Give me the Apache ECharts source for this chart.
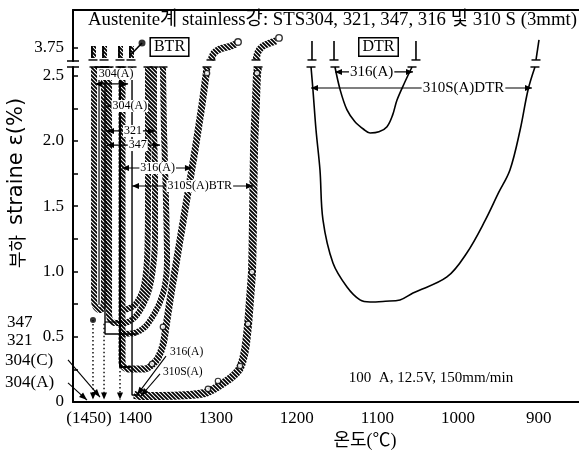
<!DOCTYPE html>
<html><head><meta charset="utf-8">
<script src="https://cdn.jsdelivr.net/npm/echarts@6/dist/echarts.min.js"></script>
<style>html,body{margin:0;padding:0;background:#fff}#c{width:579px;height:456px}</style>
</head><body><div id="c"></div>
<script>
// ---------- axis ticks ----------
const xTickValues = [1450, 1400, 1300, 1200, 1100, 1000, 900];
const xTickLabels = ['(1450)', '1400', '1300', '1200', '1100', '1000', '900'];
const yTickValues = [0, 0.5, 1.0, 1.5, 2.0, 2.5];
const yTickLabels = ['0', '0.5', '1.0', '1.5', '2.0', '2.5'];
const yMinorTicks = [0, 0.25, 0.5, 0.75, 1.0, 1.25, 1.5, 1.75, 2.0, 2.25, 2.5];
const yTopTickValues = [3.75];
const yTopTickLabels = ['3.75'];

// ---------- BTR hatched curves (temperature, strain %) ----------
const btr304A = [[1451.2,2.567],[1451.2,0.782],[1449.4,0.728],[1445,0.705],[1442.6,0.705],[1440.1,0.728],[1438.8,0.782],[1438.8,2.567]];
const btr347 = [[1432.6,2.567],[1432.6,0.667],[1430.2,0.621],[1424.0,0.605],[1412.8,0.605],[1400.4,0.651],[1390.5,0.743],[1383.1,0.858],[1378.1,1.027],[1375.6,1.241],[1375.6,1.701],[1376.9,2.161],[1376.9,2.567]];
const btr321 = [[1419.0,0.521],[1400.4,0.529],[1388.0,0.575],[1378.1,0.659],[1369.4,0.766],[1363.2,0.897],[1360.7,1.073],[1362.0,1.548],[1364.5,2.084],[1365.7,2.567]];
const btrMid = [[1412.8,0.705],[1400.4,0.743],[1390.5,0.858],[1385.5,1.088],[1384.3,1.548],[1384.3,2.567]];
const btr316A = [[1416.5,2.567],[1416.5,0.307],[1414,0.268],[1406.6,0.253],[1388,0.253],[1379.3,0.284],[1371.9,0.337],[1365.7,0.437],[1362,0.575],[1357,0.782],[1350.8,1.011],[1338.4,1.471],[1326,1.931],[1317.4,2.276],[1312.4,2.506],[1311.2,2.567]];
const btr310S = [[1401.6,0.054],[1394.2,0.046],[1369.4,0.046],[1332.2,0.054],[1313.6,0.069],[1305,0.092],[1295,0.13],[1280.2,0.192],[1270.2,0.261],[1264,0.398],[1260.3,0.59],[1257.9,0.782],[1255.4,0.996],[1254.1,1.395],[1252.9,1.931],[1250.4,2.314],[1249.2,2.506],[1247.9,2.567]];
// continuation above the axis break
const top316A = [[1306.2,3.658],[1302.5,3.712],[1295.0,3.742],[1285.1,3.758],[1275.2,3.781]];
const top310S = [[1250.4,3.658],[1247.9,3.719],[1241.7,3.765],[1233.1,3.788],[1225.6,3.804]];
const circles316A = [[1379.3,0.291],[1365.7,0.575],[1311.2,2.52]];
const circles310S = [[1309.9,0.10],[1297.5,0.161],[1270.2,0.276],[1260.3,0.598],[1255.4,0.996],[1249.2,2.52]];
const circlesTop = [[1272.7,3.796],[1221.9,3.827]];

// ---------- DTR curves ----------
const dtr310S = [[1182.2,2.567],[1179.8,2.391],[1176,2.084],[1171.1,1.778],[1167.4,1.395],[1155,1.065],[1137.6,0.881],[1121.5,0.782],[1109,0.766],[1090,0.772],[1071.9,0.782],[1055.8,0.835],[1013.7,0.958],[989.1,1.142],[966,1.395],[950,1.6],[935.6,1.778],[923,2.084],[913.2,2.391],[904.6,2.567]];
const dtr316A = [[1152.5,2.567],[1146,2.39],[1137.6,2.238],[1128,2.15],[1117,2.09],[1109,2.061],[1098,2.07],[1088,2.11],[1081,2.2],[1075.6,2.314],[1066,2.45],[1057,2.567]];

// ---------- thin solid lines ----------
const thin1 = [[1445,2.567],[1445,0.745]];
const thin2 = [[1437.6,2.567],[1437.6,0.521],[1397.9,0.521]];
const thin3 = [[1437.6,0.613],[1419,0.613]];
const thin4 = [[1419,2.567],[1419,0.268],[1406.6,0.268]];
const thin5 = [[1404.1,2.567],[1404.1,0.054],[1395,0.054]];
const stubsTop = [[1452.5,1438.8,1419,1405.4],[3.673,3.765]];
const stubsDTR = [[1181,3.658,1181,3.804],[1153.7,3.658,1153.7,3.804],[1052.1,3.658,1052.1,3.804],[903.3,3.658,899.6,3.811]];
const stub4Line = [[1405.4,3.70],[1391.7,3.788]];
const dots = [[1452.5,0.628]];
const dotsTop = [[1391.7,3.788]];

// break bars at the axis break
const breakBottom = [1451.2,1438.8,1432.6,1376.9,1365.7,1384.3,1416.5,1311.2,1404.1,1247.9,1182.2,1152.5,1057,904.6,1445,1437.6,1419];
const breakTop = [1452.5,1438.8,1419,1405.4,1306.2,1250.4,1181,1153.7,1052.1,903.3];

// ---------- range arrows: [T left, T right, strain, label] ----------
const spans = [
  [1450,1409,2.437,'304(A)'],
  [1435.1,1381.8,2.268,'304(A)'],
  [1435.1,1375.6,2.077,'321'],
  [1435.1,1369.4,1.969,'347'],
  [1416.5,1329.8,1.793,'316(A)'],
  [1404.1,1254.1,1.655,'310S(A)BTR'],
  [1152.5,1055.8,2.529,'316(A)'],
  [1182.2,908.3,2.406,'310S(A)DTR']
];
const spanStyle = [
  {f:0.64,dy:-10,size:12},{f:0.53,dy:0,size:12},{f:0.54,dy:0,size:12},{f:0.58,dy:0,size:12},
  {f:0.51,dy:0,size:12},{f:0.56,dy:0,size:12},{f:0.47,dy:0,size:15},{f:0.69,dy:0,size:15}
];
// pointer arrows [T1, v1, T2, v2]
const pointerArrows = [
  [1483.5,0.146,1459.9,0.015],
  [1483.5,0.322,1443.8,0.038],
  [1362,0.352,1397.9,0.054],
  [1369.4,0.215,1393,0.046]
];
const dottedArrows = [
  [1452.5,0.628,1452.5,0.02],
  [1438.8,0.60,1438.8,0.02],
  [1419,0.268,1419,0.02]
];

// ---------- build ----------
const SERIF = '"Liberation Serif","Noto Sans CJK KR",serif';
function makeHatch(){
  const c = document.createElement('canvas'); c.width = 4; c.height = 4;
  const g = c.getContext('2d'); g.strokeStyle = '#000'; g.lineWidth = 1.8;
  g.beginPath(); g.moveTo(-1,-1); g.lineTo(5,5); g.moveTo(-1,3); g.lineTo(1,5); g.moveTo(3,-1); g.lineTo(5,1); g.stroke();
  return c;
}
const hatchImg = makeHatch();
function hatched(data, gi, w){
  return {type:'line', xAxisIndex:gi, yAxisIndex:gi, data, symbol:'none', smooth:0.25, clip:false,
    lineStyle:{width:w||6, color:{image:hatchImg, repeat:'repeat'}}, z:2, silent:true};
}
function thin(data, gi, w, extra){
  return Object.assign({type:'line', xAxisIndex:gi, yAxisIndex:gi, data, symbol:'none', clip:false,
    lineStyle:{width:w||1.4, color:'#000'}, z:3, silent:true}, extra||{});
}
function lookup(vals, labs, v){ for (let i=0;i<vals.length;i++) if (Math.abs(vals[i]-v)<1e-6) return labs[i]; return ''; }

function arrowHead(p, q, L, W){
  const dx = q[0]-p[0], dy = q[1]-p[1]; const len = Math.hypot(dx,dy)||1;
  const ux = dx/len, uy = dy/len;
  return [[q[0],q[1]],[q[0]-ux*L-uy*W, q[1]-uy*L+ux*W],[q[0]-ux*L+uy*W, q[1]-uy*L-ux*W]];
}

const series = [
  hatched(btr304A,0), hatched(btr347,0), hatched(btrMid,0), hatched(btr321,0), hatched(btr316A,0,7), hatched(btr310S,0,8),
  hatched(top316A,1,7), hatched(top310S,1,7),
  thin(dtr310S,0,1.6,{smooth:0.35}), thin(dtr316A,0,1.6,{smooth:0.35}),
  thin(thin1,0,1.2), thin(thin2,0,1.4), thin(thin3,0,1.2), thin(thin4,0,2), thin(thin5,0,1.4),
  thin(stub4Line,1,1.6),
  {type:'custom', xAxisIndex:1, yAxisIndex:1, silent:true, z:3,
    data: stubsTop[0].map(t=>[t, stubsTop[1][0], stubsTop[1][1]]),
    renderItem:(p,api)=>{const a=api.coord([api.value(0),api.value(1)]), b=api.coord([api.value(0),api.value(2)]);
      return {type:'group',children:[
        {type:'rect',shape:{x:a[0]-2,y:b[1],width:5,height:a[1]-b[1]},style:{fill:{image:hatchImg,repeat:'repeat'}}},
        {type:'line',shape:{x1:a[0]-1,y1:a[1],x2:b[0]-1,y2:b[1]},style:{stroke:'#000',lineWidth:1.8}}]};}},
  {type:'custom', xAxisIndex:1, yAxisIndex:1, silent:true, z:3, data: stubsDTR,
    renderItem:(p,api)=>{const a=api.coord([api.value(0),api.value(1)]), b=api.coord([api.value(2),api.value(3)]);
      return {type:'line',shape:{x1:a[0],y1:a[1],x2:b[0],y2:b[1]},style:{stroke:'#000',lineWidth:1.6}};}},
  {type:'scatter', xAxisIndex:0, yAxisIndex:0, data: breakBottom.map(t=>[t,2.567]), symbol:'rect', symbolSize:[9,1.8], itemStyle:{color:'#000'}, z:6, silent:true, clip:false},
  {type:'scatter', xAxisIndex:1, yAxisIndex:1, data: breakTop.map(t=>[t,3.658]), symbol:'rect', symbolSize:[9,1.8], itemStyle:{color:'#000'}, z:6, silent:true, clip:false},
  {type:'scatter', xAxisIndex:0, yAxisIndex:0, data: circles316A.concat(circles310S), symbol:'circle', symbolSize:5.5, itemStyle:{color:'#fff',borderColor:'#000',borderWidth:1.2}, z:7, silent:true},
  {type:'scatter', xAxisIndex:1, yAxisIndex:1, data: circlesTop, symbol:'circle', symbolSize:6.5, itemStyle:{color:'#fff',borderColor:'#000',borderWidth:1.4}, z:7, silent:true, clip:false},
  {type:'scatter', xAxisIndex:0, yAxisIndex:0, data: dots, symbol:'circle', symbolSize:6, itemStyle:{color:'#000'}, z:7, silent:true},
  {type:'scatter', xAxisIndex:1, yAxisIndex:1, data: dotsTop, symbol:'circle', symbolSize:7, itemStyle:{color:'#000'}, z:7, silent:true, clip:false},
  // range arrows
  {type:'custom', xAxisIndex:0, yAxisIndex:0, silent:true, z:8, data: spans,
    renderItem:(p,api)=>{
      const i = p.dataIndex, st = spanStyle[i], d = spans[i];
      const a = api.coord([d[0],d[2]]), b = api.coord([d[1],d[2]]);
      const tx = a[0]+(b[0]-a[0])*st.f;
      return {type:'group',children:[
        {type:'line',shape:{x1:a[0],y1:a[1],x2:b[0],y2:b[1]},style:{stroke:'#000',lineWidth:1.2}},
        {type:'polygon',shape:{points:arrowHead([a[0]+10,a[1]],a,7,3)},style:{fill:'#000'}},
        {type:'polygon',shape:{points:arrowHead([b[0]-10,b[1]],b,7,3)},style:{fill:'#000'}},
        {type:'text',x:tx,y:a[1]+st.dy,style:{text:d[3],font:st.size+'px '+SERIF,fill:'#000',align:'center',verticalAlign:'middle',backgroundColor:'#fff',padding:[0,1]}}
      ]};}},
  {type:'custom', xAxisIndex:0, yAxisIndex:0, silent:true, z:8, data: pointerArrows, clip:false,
    renderItem:(p,api)=>{const a=api.coord([api.value(0),api.value(1)]), b=api.coord([api.value(2),api.value(3)]);
      return {type:'group',children:[
        {type:'line',shape:{x1:a[0],y1:a[1],x2:b[0],y2:b[1]},style:{stroke:'#000',lineWidth:1.1}},
        {type:'polygon',shape:{points:arrowHead(a,b,8,3)},style:{fill:'#000'}}]};}},
  {type:'custom', xAxisIndex:0, yAxisIndex:0, silent:true, z:8, data: dottedArrows, clip:false,
    renderItem:(p,api)=>{const a=api.coord([api.value(0),api.value(1)]), b=api.coord([api.value(2),api.value(3)]);
      return {type:'group',children:[
        {type:'line',shape:{x1:a[0],y1:a[1],x2:b[0],y2:b[1]},style:{stroke:'#000',lineWidth:1.4,lineDash:[1.5,2.5]}},
        {type:'polygon',shape:{points:arrowHead(a,b,7,3)},style:{fill:'#000'}}]};}}
];

const chart = echarts.init(document.getElementById('c'));
const axisLbl = {color:'#000', fontFamily:SERIF, fontSize:17};
chart.setOption({
  animation:false,
  grid:[{left:73,right:0,top:67,bottom:54},{left:73,right:0,top:10,height:51}],
  xAxis:[
    {gridIndex:0,type:'value',inverse:true,min:850,max:1477.27,
      axisLine:{show:true,onZero:false,lineStyle:{color:'#000',width:2}},axisTick:{show:false},splitLine:{show:false},
      axisLabel:Object.assign({customValues:xTickValues,margin:8,
        formatter:v=>{const s=lookup(xTickValues,xTickLabels,v); return v===1450?'{l|'+s+'}':s;},
        rich:{l:{fontFamily:SERIF,fontSize:17,color:'#000',padding:[0,12,0,0]}}},axisLbl)},
    {gridIndex:1,type:'value',inverse:true,min:850,max:1477.27,position:'top',
      axisLine:{show:true,onZero:false,lineStyle:{color:'#000',width:2}},axisTick:{show:false},axisLabel:{show:false},splitLine:{show:false}}
  ],
  yAxis:[
    {gridIndex:0,type:'value',min:0,max:2.567,
      axisLine:{show:true,onZero:false,lineStyle:{color:'#000',width:2}},
      axisTick:{show:true,inside:true,length:5,customValues:yMinorTicks,lineStyle:{color:'#000',width:1.5}},
      splitLine:{show:false},
      axisLabel:Object.assign({customValues:yTickValues,margin:9,formatter:v=>lookup(yTickValues,yTickLabels,v)},axisLbl)},
    {gridIndex:1,type:'value',min:3.65,max:4.0408,
      axisLine:{show:true,onZero:false,lineStyle:{color:'#000',width:2}},
      axisTick:{show:true,inside:true,length:5,customValues:yTopTickValues,lineStyle:{color:'#000',width:1.5}},
      splitLine:{show:false},
      axisLabel:Object.assign({customValues:yTopTickValues,margin:9,formatter:v=>lookup(yTopTickValues,yTopTickLabels,v)},axisLbl)}
  ],
  series
});

// annotations
const yBreakTop = chart.convertToPixel({yAxisIndex:1},3.65);
const yBreakBot = chart.convertToPixel({yAxisIndex:0},2.567);
const T = (x,y,text,size,extra)=>Object.assign({type:'text',x,y,silent:true,z:20,style:Object.assign({text,font:size+'px '+SERIF,fill:'#000',verticalAlign:'middle'},extra||{})});
chart.setOption({graphic:[
  T(88,20,'Austenite계 stainless강: STS304, 321, 347, 316 및 310 S (3mmt)',18.8),
  T(169.5,47,'BTR',16,{align:'center',borderColor:'#000',borderWidth:1.5,padding:[1,3,0,3],backgroundColor:'#fff'}),
  T(378.5,47,'DTR',16,{align:'center',borderColor:'#000',borderWidth:1.5,padding:[1,3,0,3],backgroundColor:'#fff'}),
  T(7,323,'347',17), T(7,341,'321',17), T(5,361,'304(C)',17), T(5,383,'304(A)',17),
  T(170,352,'316(A)',11.5), T(163,372,'310S(A)',11.5),
  T(431,378,'100  A, 12.5V, 150mm/min',15,{align:'center'}),
  T(365,441,'온도(℃)',18,{align:'center'}),
  {type:'text',x:17,y:183,rotation:Math.PI/2,silent:true,
    style:{text:'{k|부하}   {l|straine ε(%)}',align:'center',verticalAlign:'middle',fill:'#000',
      rich:{k:{font:'18px "Noto Sans CJK KR"',fill:'#000'},l:{font:'21px "DejaVu Sans"',fill:'#000'}}}},
  {type:'line',shape:{x1:67,y1:yBreakTop,x2:79,y2:yBreakTop},style:{stroke:'#000',lineWidth:1.5}},
  {type:'line',shape:{x1:67,y1:yBreakBot,x2:79,y2:yBreakBot},style:{stroke:'#000',lineWidth:1.5}}
]});
</script></body></html>
